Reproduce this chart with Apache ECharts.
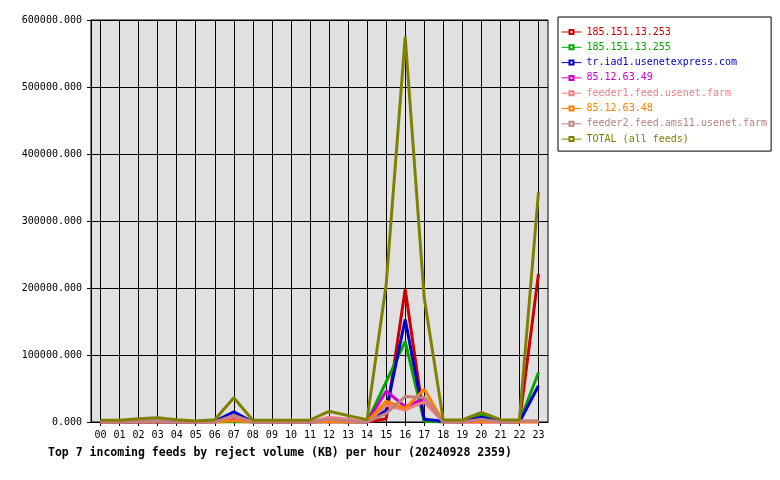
<!DOCTYPE html>
<html>
<head>
<meta charset="utf-8">
<script src="https://cdn.jsdelivr.net/npm/echarts@6/dist/echarts.min.js"></script>
<style>
  html, body { margin: 0; padding: 0; background: #fff; }
  #chart { width: 780px; height: 480px; }
</style>
</head>
<body>
<div id="chart"></div>
<script>
// hours on the x axis
var hours = ['00', '01', '02', '03', '04', '05', '06', '07', '08', '09', '10', '11',
             '12', '13', '14', '15', '16', '17', '18', '19', '20', '21', '22', '23'];

// reject volume (KB) per hour
var feed253 = [0, 0, 0, 0, 0, 0, 0, 1000, 0, 0, 0, 0, 1000, 0, 0, 5000, 198000, 1500, 0, 0, 0, 0, 0, 221000];
var feed255 = [0, 0, 0, 0, 0, 0, 0, 0, 0, 0, 0, 0, 0, 0, 0, 60000, 120000, 1000, 0, 0, 10400, 0, 0, 74000];
var feedIad1 = [0, 0, 0, 0, 0, 0, 1000, 15000, 0, 0, 0, 0, 5000, 1000, 0, 17000, 153000, 4000, 1000, 0, 7000, 0, 0, 54000];
var feed49 = [0, 0, 0, 0, 0, 0, 0, 5500, 0, 0, 0, 0, 0, 0, 0, 46000, 23000, 35000, 0, 0, 0, 0, 0, 0];
var feeder1 = [0, 0, 2000, 3000, 0, 0, 0, 8000, 0, 0, 0, 0, 7000, 4000, 0, 25000, 18000, 30000, 0, 0, 3000, 0, 0, 0];
var feed48 = [0, 0, 0, 0, 0, 0, 0, 2000, 0, 0, 0, 0, 0, 0, 0, 31000, 20400, 48800, 0, 0, 0, 0, 0, 0];
var feeder2 = [0, 0, 1000, 1500, 0, 0, 0, 10000, 0, 0, 0, 0, 4000, 2000, 0, 13000, 38000, 36500, 0, 0, 4000, 0, 2000, 2000];
var totalAll = [2500, 2500, 5000, 6500, 3500, 1500, 3500, 36300, 2500, 2500, 2500, 3000,
                16000, 9500, 3500, 205000, 575000, 185000, 3000, 3000, 14500, 3500, 3000, 343000];

var feedNames = ['185.151.13.253', '185.151.13.255', 'tr.iad1.usenetexpress.com', '85.12.63.49',
                 'feeder1.feed.usenet.farm', '85.12.63.48', 'feeder2.feed.ams11.usenet.farm', 'TOTAL (all feeds)'];
var feedColors = ['#cc0000', '#00a800', '#0000cc', '#cc00cc', '#f08080', '#ff8000', '#c08080', '#808000'];
var feedData = [feed253, feed255, feedIad1, feed49, feeder1, feed48, feeder2, totalAll];

var yMax = 600000, yStep = 100000;
var mono = 'DejaVu Sans Mono';

var myChart = echarts.init(document.getElementById('chart'));

var series = [];
var legendData = [];
for (var i = 0; i < feedNames.length; i++) {
    series.push({
        name: feedNames[i],
        type: 'line',
        xAxisIndex: 1,
        yAxisIndex: 1,
        data: feedData[i],
        color: feedColors[i],
        symbol: 'emptyRect',
        symbolSize: 4,
        showSymbol: false,
        lineStyle: { width: 3, color: feedColors[i] }
    });
    legendData.push({ name: feedNames[i], textStyle: { color: feedColors[i] } });
}

var option = {
    animation: false,
    backgroundColor: '#fff',
    title: {
        text: 'Top 7 incoming feeds by reject volume (KB) per hour (20240928 2359)',
        left: 48,
        top: 447,
        padding: 0,
        textStyle: { fontFamily: mono, fontSize: 11.5, fontWeight: 'bold', color: '#000' }
    },
    legend: {
        orient: 'vertical',
        left: 558,
        top: 17,
        padding: [10, 4, 7, 3],
        backgroundColor: '#fff',
        borderColor: '#000',
        borderWidth: 1,
        itemWidth: 20,
        itemHeight: 5,
        itemGap: 5.3,
        lineStyle: { width: 1 },
        textStyle: { fontFamily: mono, fontSize: 10, lineHeight: 10 },
        data: legendData
    },
    // grid 0: the grey plot box, y labels and horizontal lines
    // grid 1: same height, inset half a band, carries the hour lines and the data
    grid: [
        {
            left: 91, right: 232, top: 20, bottom: 58,
            show: true,
            backgroundColor: '#e0e0e0',
            borderColor: '#000',
            borderWidth: 1
        },
        { left: 100.5, right: 241.5, top: 20, bottom: 58 }
    ],
    xAxis: [
        {
            gridIndex: 0,
            type: 'category',
            data: hours,
            boundaryGap: true,
            axisLine: { lineStyle: { color: '#000', width: 1 } },
            axisTick: { show: false },
            axisLabel: { show: false },
            splitLine: { show: false }
        },
        {
            gridIndex: 1,
            type: 'category',
            data: hours,
            boundaryGap: false,
            axisLine: { show: false },
            axisTick: { show: true, length: 4, interval: 0, lineStyle: { color: '#000' } },
            axisLabel: { fontFamily: mono, fontSize: 10, color: '#000', margin: 8, interval: 0 },
            splitLine: { show: true, interval: 0, lineStyle: { color: '#000', width: 1 } }
        }
    ],
    yAxis: [
        {
            gridIndex: 0,
            type: 'value',
            min: 0,
            max: yMax,
            interval: yStep,
            axisLine: { show: true, lineStyle: { color: '#000' } },
            axisTick: { show: true, length: 4, lineStyle: { color: '#000' } },
            axisLabel: {
                fontFamily: mono, fontSize: 10, color: '#000', margin: 9,
                formatter: function (v) { return v.toFixed(3); }
            },
            splitLine: { show: true, lineStyle: { color: '#000', width: 1 } }
        },
        {
            gridIndex: 1,
            type: 'value',
            min: 0,
            max: yMax,
            interval: yStep,
            show: false
        }
    ],
    series: series
};

myChart.setOption(option);
</script>
</body>
</html>
